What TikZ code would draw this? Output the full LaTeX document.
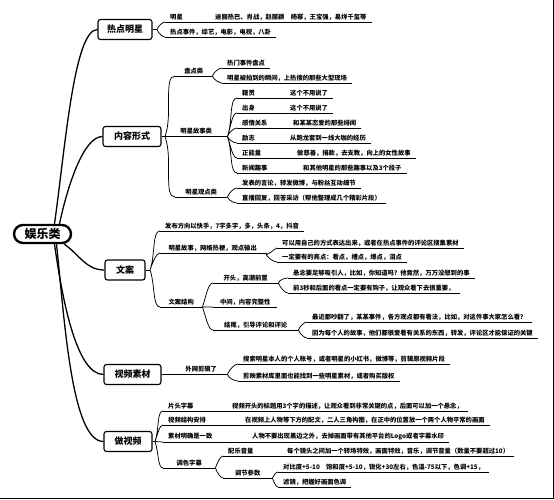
\documentclass[tikz,border=0pt]{standalone}
\usepackage{fontspec}
\setmainfont{Noto Sans CJK SC}
\tikzstyle{hub} = [draw, line width=2.4pt, rounded corners=9pt, minimum width=57pt, minimum height=18pt, inner sep=2pt, font=\fontsize{12}{12}\selectfont\bfseries]
\tikzstyle{topic} = [draw, line width=1.1pt, rounded corners=2.5pt, minimum height=20pt, font=\fontsize{9}{9}\selectfont\bfseries]
\tikzstyle{leaf} = [anchor=south west, inner xsep=5pt, inner ysep=1.8pt, font=\fontsize{6.3}{7}\selectfont\bfseries]
\tikzstyle{link} = [line width=0.75pt]
\tikzstyle{trunk} = [line width=1.3pt]
\tikzstyle{upper} = [out=70, in=180, in looseness=0.5]
\tikzstyle{lower} = [out=-70, in=180, in looseness=0.5]

\begin{document}
\begin{tikzpicture}[x=1pt,y=-1pt]
    \useasboundingbox (0,0) rectangle (554,500);
    \draw[line width=0.8pt] (553.5,0) -- (553.5,498) -- (0,498);

    % root and main topics
    \node [hub] at (42.5,234) (root) {娱乐类};
    \node [topic, minimum width=54pt] at (125,29.5) (hot) {热点明星};
    \node [topic, minimum width=58pt] at (132,136.5) (form) {内容形式};
    \node [topic, minimum width=40pt] at (125,270) (copy) {文案};
    \node [topic, minimum width=57pt] at (132.5,374.5) (clip) {视频素材};
    \node [topic, minimum width=48pt] at (128,441.5) (make) {做视频};

    \draw [trunk] ([xshift=12pt]root.north) to[out=82, in=180, in looseness=0.3] (hot.west);
    \draw [trunk] ([xshift=17pt]root.north) to[out=78, in=180, in looseness=0.5] (form.west);
    \draw [trunk] (root.-25) to[out=-35, in=180] (copy.west);
    \draw [trunk] ([xshift=12pt]root.south) to[out=-82, in=180, in looseness=0.5] (clip.west);
    \draw [trunk] ([xshift=14pt]root.south) to[out=-84, in=180, in looseness=0.4] (make.west);

    % 热点明星
    \coordinate (hotj) at (157,29.5);
    \node [leaf] at (165,22) (hot1) {\makebox[45pt][l]{明星}迪丽热巴、肖战，赵丽颖　杨幂，王宝强，易烊千玺等};
    \node [leaf] at (165,37) (hot2) {热点事件，综艺，电影，电视，八卦};
    \draw [link] (hot.east) -- (hotj);
    \draw [link] (hotj) to[upper] (hot1.south west) (hotj) to[lower] (hot2.south west);

    % 内容形式
    \node [leaf, minimum width=37pt] at (175,76) (form1) {盘点类};
    \node [leaf] at (222,68) (form11) {热门事件盘点};
    \node [leaf] at (222,83) (form12) {明星被拍到的瞬间，上热搜的那些大型现场};
    \node [leaf, minimum width=62pt] at (165,136.5) (form2) {明星故事类};
    \node [leaf] at (237,98) (form21) {\makebox[48pt][l]{籍贯}这个不用说了};
    \node [leaf] at (237,113) (form22) {\makebox[48pt][l]{出身}这个不用说了};
    \node [leaf] at (237,128) (form23) {\makebox[51pt][l]{感情关系}和某某恋爱的那些绯闻};
    \node [leaf] at (237,143) (form24) {\makebox[48pt][l]{励志}从跑龙套到一线大咖的经历};
    \node [leaf] at (237,158) (form25) {\makebox[55pt][l]{正能量}做慈善，捐款，去支教，向上的女性故事};
    \node [leaf] at (237,173) (form26) {\makebox[61pt][l]{新闻趣事}和其他明星的那些趣事以及3个段子};
    \node [leaf, minimum width=52pt] at (175,197) (form3) {明星观点类};
    \node [leaf] at (237,188) (form31) {发表的言论，转发微博，与粉丝互动细节};
    \node [leaf] at (237,203) (form32) {直播回复，回答采访（帮他整理成几个精彩片段）};
    \draw [link] (form.east) -- (form2.south west);
    \draw [link] (form2.south west) to[upper] (form1.south west) (form2.south west) to[lower] (form3.south west);
    \draw [link] (form1.south east) to[upper] (form11.south west) (form1.south east) to[lower] (form12.south west);
    \draw [link] (form2.south east) to[upper] (form21.south west) (form2.south east) to[upper] (form22.south west)
        (form2.south east) to[upper] (form23.south west) (form2.south east) to[lower] (form24.south west)
        (form2.south east) to[lower] (form25.south west) (form2.south east) to[lower] (form26.south west);
    \draw [link] (form3.south east) to[upper] (form31.south west) (form3.south east) to[lower] (form32.south west);

    % 文案
    \coordinate (copyj) at (150,270);
    \node [leaf] at (160,231) (copy1) {发布方向以快手，7字多字，多，头条，4，抖音};
    \node [leaf, minimum width=105pt] at (160,253) (copy2) {明星故事，网络热梗，观点输出};
    \node [leaf] at (277,248) (copy21) {可以用自己的方式表达出来，或者在热点事件的评论区搜集素材};
    \node [leaf] at (277,262) (copy22) {一定要有的亮点：看点，槽点，爆点，泪点};
    \node [leaf, minimum width=42pt] at (160,307) (copy3) {文案结构};
    \node [leaf, minimum width=65pt] at (213,283) (copy31) {开头，高潮前置};
    \node [leaf] at (288,278) (copy311) {悬念要足够吸引人，比如，你知道吗？他竟然，万万没想到的事};
    \node [leaf] at (288,293) (copy312) {前3秒和后面的看点一定要有钩子，让观众看下去很重要，};
    \node [leaf, minimum width=64pt] at (213,307) (copy32) {中间，内容完整性};
    \node [leaf, minimum width=85pt] at (213,330) (copy33) {结尾，引导评论和评论};
    \node [leaf] at (307,322) (copy331) {最近都吵翻了，某某事件，各方观点都有看法，比如，对这件事大家怎么看？};
    \node [leaf] at (307,338) (copy332) {因为每个人的故事，他们都很爱看有关系的东西，转发，评论区才能保证的关键};
    \draw [link] (copy.east) -- (copyj);
    \draw [link] (copyj) to[upper] (copy1.south west) (copyj) to[upper] (copy2.south west) (copyj) to[lower] (copy3.south west);
    \draw [link] (copy2.south east) to[lower] (copy21.south west) (copy2.south east) to[lower] (copy22.south west);
    \draw [link] (copy3.south east) to[upper] (copy31.south west) (copy3.south east) -- (copy32.south west)
        (copy3.south east) to[lower] (copy33.south west);
    \draw [link] (copy31.south east) to[upper] (copy311.south west) (copy31.south east) to[lower] (copy312.south west);
    \draw [link] (copy33.south east) to[upper] (copy331.south west) (copy33.south east) to[lower] (copy332.south west);

    % 视频素材
    \node [leaf, minimum width=52pt] at (175,374.5) (clip1) {外网剪辑了};
    \node [leaf] at (238,364) (clip11) {搜索明星本人的个人账号，或者明星的小红书，微博等，剪辑原视频片段};
    \node [leaf] at (238,381) (clip12) {剪映素材库里面也能找到一些明星素材，或者购买版权};
    \draw [link] (clip.east) -- (clip1.south west);
    \draw [link] (clip1.south east) to[upper] (clip11.south west) (clip1.south east) to[lower] (clip12.south west);

    % 做视频
    \coordinate (makej) at (155,441.5);
    \node [leaf] at (163,411) (make1) {\makebox[64pt][l]{片头字幕}视频开头的标题用3个字的描述，让观众看到非常关键的点，后面可以加一个悬念，};
    \node [leaf] at (163,425) (make2) {\makebox[77pt][l]{视频结构安排}在视频上人物等下方的配文，二人三角构图，在正中的位置放一个两个人物平常的画面};
    \node [leaf] at (163,442) (make3) {\makebox[84pt][l]{素材明确是一致}人物不要出现黑边之外，去掉画面带有其他平台的Logo或者字幕水印};
    \node [leaf, minimum width=52pt] at (163,468) (make4) {调色字幕};
    \node [leaf] at (223,456) (make41) {\makebox[59pt][l]{配乐音量}每个镜头之间加一个转场特效，画面特效，音乐，调节音量（数量不要超过10）};
    \node [leaf, minimum width=49pt] at (223,478) (make42) {调节参数};
    \node [leaf] at (278,472) (make421) {对比度+5-10\quad 饱和度+5-10，锐化+30左右，色温-75以下，色调+15，};
    \node [leaf] at (278,487) (make422) {滤镜，把握好画面色调};
    \draw [link] (make.east) -- (makej);
    \draw [link] (makej) to[upper] (make1.south west) (makej) to[upper] (make2.south west)
        (makej) -- (make3.south west) (makej) to[lower] (make4.south west);
    \draw [link] (make4.south east) to[upper] (make41.south west) (make4.south east) to[lower] (make42.south west);
    \draw [link] (make42.south east) to[upper] (make421.south west) (make42.south east) to[lower] (make422.south west);

    % underlines
    \foreach \n in {hot1,hot2,form1,form11,form12,form2,form21,form22,form23,form24,form25,form26,form3,form31,form32,
        copy1,copy2,copy21,copy22,copy3,copy31,copy311,copy312,copy32,copy33,copy331,copy332,
        clip1,clip11,clip12,make1,make2,make3,make4,make41,make42,make421,make422}
        \draw [link] (\n.south west) -- (\n.south east);
\end{tikzpicture}
\end{document}
